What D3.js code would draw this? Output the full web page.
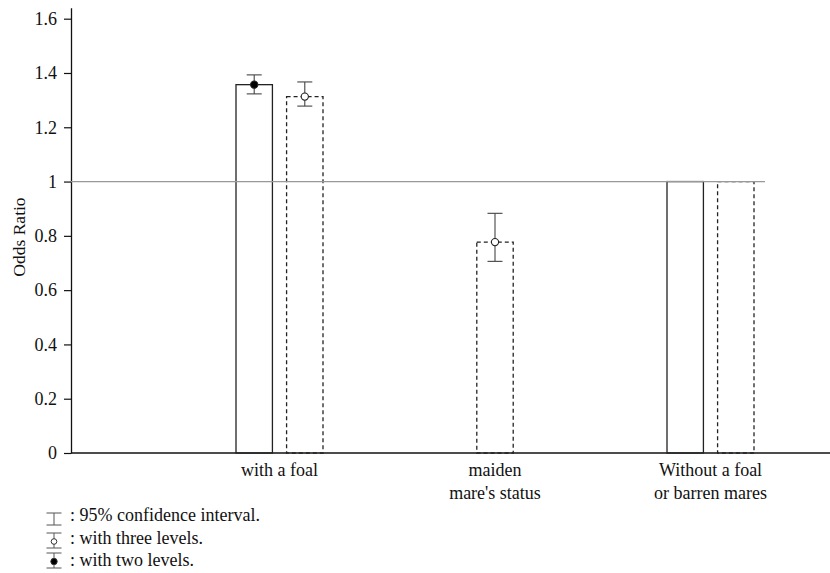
<!DOCTYPE html>
<html>
<head>
<meta charset="utf-8">
<script src="https://cdn.jsdelivr.net/npm/d3@7"></script>
<style>
  body { margin: 0; background: #fff; }
  svg, svg text { font-family: "Liberation Serif", "Times New Roman", Times, "DejaVu Serif", serif !important; }
</style>
</head>
<body>
<div id="chart"></div>
<script>
// mare's status categories, each label may have two lines
const categories = ["with a foal", "maiden", "Without a foal or barren mares"];
const categoryLines = [["with a foal"], ["maiden"], ["Without a foal", "or barren mares"]];

// odds ratio, model with two levels (solid bars)
const twoLevels = [1.357, null, 1.0];
const twoLow = [1.323, null, null];
const twoHigh = [1.393, null, null];

// odds ratio, model with three levels (dashed bars)
const threeLevels = [1.313, 0.777, 1.0];
const threeLow = [1.278, 0.706, null];
const threeHigh = [1.367, 0.883, null];

const yTicks = [0, 0.2, 0.4, 0.6, 0.8, 1, 1.2, 1.4, 1.6];
const yTickLabels = ["0", "0.2", "0.4", "0.6", "0.8", "1", "1.2", "1.4", "1.6"];
const legendLabels = [": 95% confidence interval.", ": with three levels.", ": with two levels."];
const legendPoints = [null, "three", "two"];

const width = 830;
const height = 573;
const axisX = 71;
const baseY = 453;
const fontSize = "18px";

const svg = d3.select("#chart").append("svg")
  .attr("width", width)
  .attr("height", height);

const y = d3.scaleLinear()
  .domain([0, 1.64])
  .range([baseY, baseY - 1.64 * 271.44]);

const x = d3.scalePoint()
  .domain(categories)
  .range([279.5, 710.5]);

const inner = d3.scaleBand()
  .domain(["two", "three"])
  .range([-43.5, 43.5])
  .paddingInner(0.28);
const bw = inner.bandwidth();

// build one record per bar
var bars = [];
categories.forEach((c, i) => {
  let present = [];
  if (twoLevels[i] != null) present.push({series: "two", value: twoLevels[i], low: twoLow[i], high: twoHigh[i]});
  if (threeLevels[i] != null) present.push({series: "three", value: threeLevels[i], low: threeLow[i], high: threeHigh[i]});
  present.forEach(p => {
    let left;
    if (present.length === 1) left = x(c) - bw / 2;
    else left = x(c) + inner(p.series);
    bars.push(Object.assign({cat: c, left: left}, p));
  });
});

// y axis
const yAxis = svg.append("g")
  .attr("transform", "translate(" + axisX + ",0)")
  .call(d3.axisLeft(y)
    .tickValues(yTicks)
    .tickFormat((d, i) => yTickLabels[i])
    .tickSize(7)
    .tickSizeOuter(0)
    .tickPadding(7));
yAxis.attr("font-family", null);
yAxis.select(".domain").attr("stroke", "#111").attr("stroke-width", 1.3);
yAxis.selectAll(".tick line").attr("stroke", "#111").attr("stroke-width", 1.2);
yAxis.selectAll(".tick text")
  .attr("fill", "#111")
  .style("font-size", fontSize);

svg.append("text")
  .attr("transform", "translate(25," + 237 + ") rotate(-90)")
  .attr("text-anchor", "middle")
  .attr("fill", "#111")
  .style("font-size", "17.5px")
  .text("Odds Ratio");

// baseline
svg.append("line")
  .attr("x1", axisX).attr("x2", width)
  .attr("y1", y(0)).attr("y2", y(0))
  .attr("stroke", "#111")
  .attr("stroke-width", 1.3);

// bars
svg.selectAll(".bar")
  .data(bars)
  .enter()
  .append("rect")
  .attr("class", "bar")
  .attr("x", d => d.left)
  .attr("y", d => y(d.value))
  .attr("width", bw)
  .attr("height", d => y(0) - y(d.value))
  .attr("fill", "none")
  .attr("stroke", "#222")
  .attr("stroke-width", 1.3)
  .attr("stroke-dasharray", d => d.series === "three" ? "4,3" : null);

// reference line at 1
svg.append("line")
  .attr("x1", axisX).attr("x2", 765)
  .attr("y1", y(1)).attr("y2", y(1))
  .attr("stroke", "#999")
  .attr("stroke-width", 1.3);

// confidence intervals
const withCI = bars.filter(d => d.low != null);
const capW = 15;
const eb = svg.selectAll(".ci")
  .data(withCI)
  .enter()
  .append("g")
  .attr("class", "ci")
  .attr("stroke", "#444")
  .attr("stroke-width", 1.1);
eb.append("line")
  .attr("x1", d => d.left + bw / 2).attr("x2", d => d.left + bw / 2)
  .attr("y1", d => y(d.low)).attr("y2", d => y(d.high));
eb.append("line")
  .attr("x1", d => d.left + bw / 2 - capW / 2).attr("x2", d => d.left + bw / 2 + capW / 2)
  .attr("y1", d => y(d.low)).attr("y2", d => y(d.low));
eb.append("line")
  .attr("x1", d => d.left + bw / 2 - capW / 2).attr("x2", d => d.left + bw / 2 + capW / 2)
  .attr("y1", d => y(d.high)).attr("y2", d => y(d.high));
eb.append("circle")
  .attr("cx", d => d.left + bw / 2)
  .attr("cy", d => y(d.value))
  .attr("r", 3.6)
  .attr("fill", d => d.series === "two" ? "#000" : "#fff")
  .attr("stroke", "#222");

// category labels
categoryLines.forEach((lines, i) => {
  lines.forEach((t, j) => {
    svg.append("text")
      .attr("x", x(categories[i]))
      .attr("y", 476 + j * 23)
      .attr("text-anchor", "middle")
      .attr("fill", "#111")
      .style("font-size", fontSize)
      .text(t);
  });
});

svg.append("text")
  .attr("x", x(categories[1]))
  .attr("y", 499)
  .attr("text-anchor", "middle")
  .attr("fill", "#111")
  .style("font-size", fontSize)
  .text("mare's status");

// legend
const legend = svg.append("g").attr("transform", "translate(54,0)");
legendLabels.forEach((t, i) => {
  let top = 513 + i * 20;
  let bot = top + 12 + (i > 0 ? 3 : 0);
  let g = legend.append("g").attr("stroke", "#555").attr("stroke-width", 1);
  g.append("line").attr("x1", -7.5).attr("x2", 7.5).attr("y1", top).attr("y2", top);
  g.append("line").attr("x1", -7.5).attr("x2", 7.5).attr("y1", bot).attr("y2", bot);
  g.append("line").attr("x1", 0).attr("x2", 0).attr("y1", top).attr("y2", bot);
  if (legendPoints[i]) {
    g.append("circle")
      .attr("cx", 0).attr("cy", (top + bot) / 2 + 1)
      .attr("r", legendPoints[i] === "two" ? 3.2 : 2.8)
      .attr("fill", legendPoints[i] === "two" ? "#000" : "#fff")
      .attr("stroke", "#333");
  }
  legend.append("text")
    .attr("x", 16)
    .attr("y", 521 + i * 22.5)
    .attr("fill", "#111")
    .style("font-size", "18px")
    .text(t);
});
</script>
</body>
</html>
